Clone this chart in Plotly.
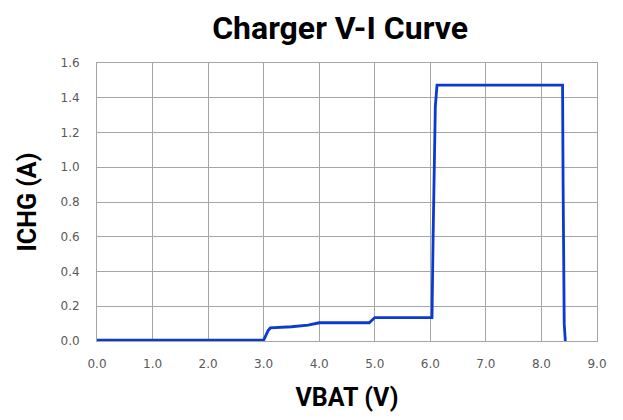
import plotly.graph_objects as go

vbat = [0.0, 3.0, 3.08, 3.12, 3.5, 3.8, 4.0, 4.9, 5.0, 6.03, 6.05, 6.07, 6.09, 6.12,
        8.38, 8.39, 8.40, 8.41, 8.43]
ichg = [0.005, 0.005, 0.06, 0.075, 0.082, 0.092, 0.105, 0.105, 0.135, 0.135, 0.6, 1.1,
        1.35, 1.473, 1.473, 0.9, 0.45, 0.1, 0.0]

x_ticks = [0, 1, 2, 3, 4, 5, 6, 7, 8, 9]
x_labels = ["0.0", "1.0", "2.0", "3.0", "4.0", "5.0", "6.0", "7.0", "8.0", "9.0"]
y_ticks = [0, 0.2, 0.4, 0.6, 0.8, 1.0, 1.2, 1.4, 1.6]
y_labels = ["0.0", "0.2", "0.4", "0.6", "0.8", "1.0", "1.2", "1.4", "1.6"]

fig = go.Figure()
fig.add_trace(go.Scatter(x=vbat, y=ichg, mode="lines",
                         line=dict(color="#0a3ad0", width=2.8), showlegend=False))

fig.update_layout(
    width=623, height=420,
    margin=dict(l=89, r=34, t=55, b=87),
    paper_bgcolor="white", plot_bgcolor="white",
    title=dict(text="<b>Charger V-I Curve</b>", x=0.533, xanchor="center", y=0.952, yanchor="middle",
               font=dict(family="Roboto", size=32, color="#000000")),
    xaxis=dict(range=[0, 9], tickvals=x_ticks, ticktext=x_labels,
               showgrid=True, gridcolor="#a6a6a6", gridwidth=1,
               showline=True, linecolor="#a6a6a6", mirror=True, zeroline=False,
               ticks="", ticklabelstandoff=12,
               tickfont=dict(family="DejaVu Sans", size=12, color="#595959"),
               title=dict(text="<b>VBAT (V)</b>", standoff=18,
                          font=dict(family="Roboto", size=25, color="#000000"))),
    yaxis=dict(range=[0, 1.6], tickvals=y_ticks, ticktext=y_labels,
               showgrid=True, gridcolor="#a6a6a6", gridwidth=1,
               showline=True, linecolor="#a6a6a6", mirror=True, zeroline=False,
               ticks="", ticklabelstandoff=14,
               tickfont=dict(family="DejaVu Sans", size=12, color="#595959"),
               title=dict(text="<b>ICHG (A)</b>", standoff=16,
                          font=dict(family="Roboto", size=25, color="#000000"))),
)

fig.write_html("out.html")
